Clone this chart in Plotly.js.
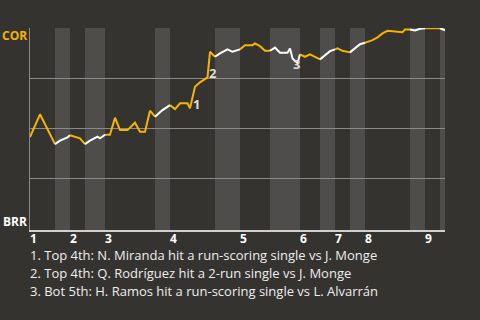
<!DOCTYPE html>
<html>
<head>
<meta charset="utf-8">
<script src="https://cdn.plot.ly/plotly-3.0.1.min.js"></script>
<style>
html,body{margin:0;padding:0;background:#353330;}
#chart{width:480px;height:320px;}
</style>
</head>
<body>
<div id="chart"></div>
<script>
// play sequence (x) and COR win probability (y)
const playX = [0,4,10,12,15,16,20,22,24,27,28,30,32,34,36,39,42,44,46,48,50,53,56,58,60,63,64,66,68,71,72,74,76,79,81,84,86,89,90,92,94,96,98,100,103,104,105,107,108,110,112,115,116,118,120,122,123,125,128,130,132,134,137,139,141,143,146,149,150,152,154,156,158,164,166];
const winProb = [0.455,0.569,0.42,0.437,0.454,0.464,0.449,0.42,0.437,0.457,0.449,0.467,0.467,0.552,0.49,0.49,0.527,0.482,0.482,0.587,0.557,0.59,0.615,0.595,0.624,0.624,0.599,0.707,0.729,0.754,0.882,0.857,0.874,0.894,0.882,0.894,0.915,0.915,0.924,0.91,0.887,0.887,0.903,0.877,0.877,0.899,0.849,0.825,0.869,0.857,0.869,0.849,0.844,0.865,0.885,0.894,0.899,0.887,0.879,0.899,0.92,0.927,0.94,0.954,0.974,0.987,0.985,0.98,0.994,0.994,0.989,0.997,1.0,1.0,0.99];
// half-inning starts (top, bottom alternating), last value = end of game
const halfStarts = [0,10,16,22,30,50,56,74,84,96,108,116,122,128,134,152,158,164,166];
const inningLabels = ["1","2","3","4","5","6","7","8","9"];
const teams = ["COR","BRR"];
const eventX = [64,71,107];
const eventY = [0.599,0.754,0.825];
const eventLabels = ["1","2","3"];
const notes = [
  "1. Top 4th: N. Miranda hit a run-scoring single vs J. Monge",
  "2. Top 4th: Q. Rodríguez hit a 2-run single vs J. Monge",
  "3. Bot 5th: H. Ramos hit a run-scoring single vs L. Alvarrán"
];

const ORANGE = '#f5b400';
const BG = '#353330';
const BAND = '#4e4d4b';
const FONT = 'Open Sans, sans-serif';

const traces = [];
for (let i = 0; i < halfStarts.length - 1; i++) {
  const a = halfStarts[i], b = halfStarts[i+1];
  const xs = [], ys = [];
  playX.forEach((x, k) => { if (x >= a && x <= b) { xs.push(x); ys.push(winProb[k]); } });
  traces.push({
    x: xs, y: ys, type: 'scatter', mode: 'lines',
    line: {color: i % 2 === 0 ? ORANGE : '#ffffff', width: 2},
    hoverinfo: 'skip', showlegend: false
  });
}

const shapes = [];
for (let i = 1; i < halfStarts.length - 1; i += 2) {
  shapes.push({type: 'rect', xref: 'x', yref: 'paper', x0: halfStarts[i], x1: halfStarts[i+1], y0: 0, y1: 1,
    fillcolor: BAND, line: {width: 0}, layer: 'below'});
}

const annotations = [];
inningLabels.forEach((t, i) => {
  annotations.push({x: halfStarts[i*2], xref: 'x', y: 0, yref: 'paper', text: '<b>' + t + '</b>',
    xanchor: 'left', yanchor: 'top', yshift: 1, xshift: -1, showarrow: false, borderpad: 0,
    font: {family: FONT, size: 12, color: '#ffffff'}});
});
annotations.push({x: 0, xref: 'paper', y: 1, yref: 'paper', text: '<b>' + teams[0] + '</b>',
  xanchor: 'right', yanchor: 'middle', xshift: -2, yshift: -7, showarrow: false, borderpad: 0,
  font: {family: FONT, size: 12, color: ORANGE}});
annotations.push({x: 0, xref: 'paper', y: 0, yref: 'paper', text: '<b>' + teams[1] + '</b>',
  xanchor: 'right', yanchor: 'middle', xshift: -2, yshift: 9, showarrow: false, borderpad: 0,
  font: {family: FONT, size: 12, color: '#ffffff'}});
const evShift = [[6,-4],[5,-4],[-1,1]];
eventLabels.forEach((t, i) => {
  annotations.push({x: eventX[i], y: eventY[i], xref: 'x', yref: 'y', text: '<b>' + t + '</b>',
    xanchor: 'center', yanchor: 'middle', xshift: evShift[i][0], yshift: -evShift[i][1],
    showarrow: false, borderpad: 0, font: {family: FONT, size: 13, color: '#dddddd'}});
});
notes.forEach((t, i) => {
  annotations.push({x: 0, xref: 'paper', y: 0, yref: 'paper', text: t,
    xanchor: 'left', yanchor: 'middle', xshift: -1, yshift: -25 - 18 * i, showarrow: false, borderpad: 0,
    font: {family: FONT, size: 13, color: '#eeeeee'}});
});

const layout = {
  width: 480, height: 320,
  margin: {l: 30, r: 35, t: 28, b: 90},
  paper_bgcolor: BG, plot_bgcolor: BG,
  xaxis: {range: [0, 166], showgrid: false, zeroline: false, showticklabels: false,
    showline: true, linecolor: '#d0d0d0', linewidth: 2, ticks: ''},
  yaxis: {range: [-0.01, 1.001], tickvals: [0.25, 0.5, 0.75, 1.0], showticklabels: false,
    showgrid: true, gridcolor: '#8a8a8a', gridwidth: 1, zeroline: false,
    showline: true, linecolor: '#8a8a8a', linewidth: 1, ticks: ''},
  shapes: shapes,
  annotations: annotations,
  showlegend: false
};

Plotly.newPlot('chart', traces, layout, {displayModeBar: false, staticPlot: true});
</script>
</body>
</html>
